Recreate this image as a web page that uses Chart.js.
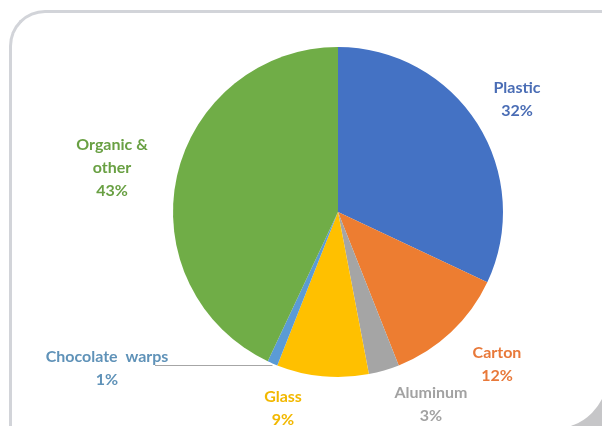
<!DOCTYPE html>
<html>
<head>
<meta charset="utf-8">
<script src="https://cdn.jsdelivr.net/npm/chart.js@4/dist/chart.umd.min.js"></script>
<style>
  html, body { margin: 0; padding: 0; background: #fff; overflow: hidden; }
  #wrap { position: relative; width: 602px; height: 426px; overflow: hidden; background: #fff; }
  #curl { position: absolute; left: 520px; top: 350px; width: 100px; height: 100px; background: #c6c6c8; }
  #frame {
    position: absolute; left: 9px; top: 10px; width: 596px; height: 416px;
    border: 3px solid #d2d4d9; border-right: none; border-bottom: none;
    border-radius: 36px 0 55px 0; background: #fff;
  }
  canvas { position: absolute; left: 0; top: 0; }
</style>
</head>
<body>
<div id="wrap">
  <div id="curl"></div>
  <div id="frame"></div>
  <canvas id="pieChart" width="602" height="426"></canvas>
</div>
<script>
// data
const categories = ['Plastic', 'Carton', 'Aluminum', 'Glass', 'Chocolate warps', 'Organic & other'];
const shares = [32, 12, 3, 9, 1, 43];
const sliceColors = ['#4472C4', '#ED7D31', '#A5A5A5', '#FFC000', '#5B9BD5', '#70AD47'];
const textColors = ['#4a6db5', '#e8793a', '#a2a2a2', '#f2b800', '#5f92b8', '#69a043'];

// label layout (lines of text + anchor), one per slice
const labelLines = [
    ['Plastic', '32%'],
    ['Carton', '12%'],
    ['Aluminum', '3%'],
    ['Glass', '9%'],
    ['Chocolate  warps', '1%'],
    ['Organic &', 'other', '43%']
];
const labelPos = [[517, 88], [497, 353], [431, 393], [283, 397], [107, 357], [112, 145]];

// draws the labels and the leader line for the tiny slice
const sliceLabels = {
    id: 'sliceLabels',
    afterDraw(chart) {
        const ctx = chart.ctx;
        const arcs = chart.getDatasetMeta(0).data;
        ctx.save();
        ctx.font = 'bold 16px Lato';
        ctx.textAlign = 'center';
        ctx.textBaseline = 'middle';
        labelLines.forEach((lines, i) => {
            ctx.fillStyle = textColors[i];
            lines.forEach((t, j) => {
                ctx.fillText(t, labelPos[i][0], labelPos[i][1] + j * 23);
            });
        });
        // leader line for chocolate warps
        const a = arcs[4];
        const mid = (a.startAngle + a.endAngle) / 2;
        const ex = a.x + Math.cos(mid) * a.outerRadius;
        ctx.strokeStyle = '#a6a6a6';
        ctx.lineWidth = 1;
        ctx.beginPath();
        ctx.moveTo(155, 365.5);
        ctx.lineTo(ex, 365.5);
        ctx.stroke();
        ctx.restore();
    }
};

new Chart(document.getElementById('pieChart'), {
    type: 'pie',
    data: {
        labels: categories,
        datasets: [{
            data: shares,
            backgroundColor: sliceColors,
            borderWidth: 0
        }]
    },
    options: {
        responsive: false,
        animation: false,
        layout: { padding: { left: 173, right: 99, top: 47, bottom: 49 } },
        plugins: {
            legend: { display: false },
            tooltip: { enabled: false }
        }
    },
    plugins: [sliceLabels]
});
</script>
</body>
</html>
